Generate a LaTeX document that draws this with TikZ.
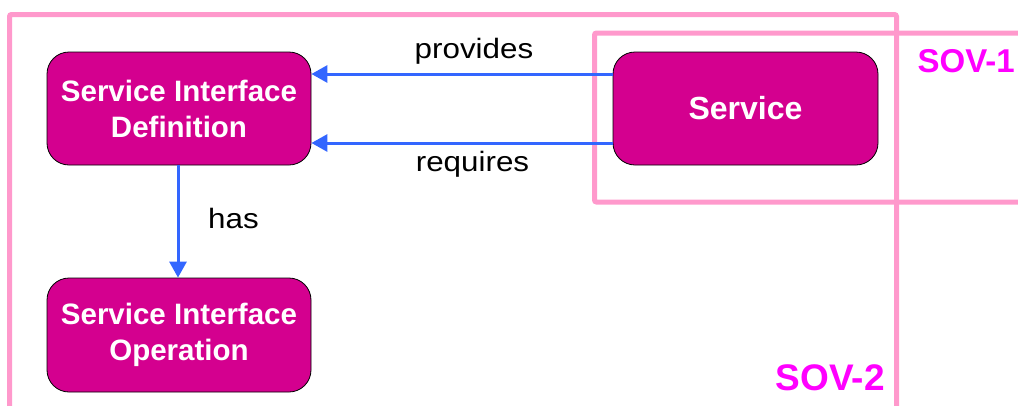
\documentclass[tikz,border=0pt]{standalone}
\usepackage{fontspec}
\setmainfont{Liberation Sans}
\newfontfamily\relfont[FakeStretch=1.12]{Liberation Sans}
\usetikzlibrary{arrows.meta}
\definecolor{boxfill}{RGB}{212,0,143}
\definecolor{frame}{RGB}{255,153,204}
\definecolor{arrowblue}{RGB}{51,102,255}
\definecolor{sovtext}{RGB}{255,0,255}
\tikzset{
  elem/.style={draw=black, line width=0.8pt, fill=boxfill, rounded corners=22pt,
    text=white, font=\bfseries\fontsize{29.5}{36}\selectfont, align=center,
    minimum width=264pt, minimum height=113pt, inner sep=0pt},
  framebox/.style={draw=frame, line width=5pt, rounded corners=2pt},
  rel/.style={draw=arrowblue, line width=3pt, -{Triangle[length=16pt,width=17pt]}},
  rellabel/.style={font=\relfont\fontsize{28}{32}\selectfont, text=black, anchor=base, inner sep=0pt},
  sovlabel/.style={font=\bfseries\fontsize{33}{38}\selectfont, text=sovtext, anchor=base east, inner sep=0pt}
}
\begin{document}
\begin{tikzpicture}[x=1pt,y=-1pt]
\useasboundingbox (0,0) rectangle (1018,405);
\begin{scope}
\clip (0,0) rectangle (1018,405);
\draw[framebox] (9.5,420) -- (9.5,14.5) -- (896.5,14.5) -- (896.5,420);
\draw[framebox] (1030,33) -- (594.5,33) -- (594.5,202) -- (1030,202);
\end{scope}
\node[elem] (sid) at (179,108.5) {Service Interface\\Definition};
\node[elem, font=\bfseries\fontsize{32}{38}\selectfont, minimum width=265pt] (svc) at (745.5,108.5) {Service};
\node[elem, minimum height=114pt] (sio) at (179,335) {Service Interface\\Operation};
\draw[rel] ([yshift=34.5pt]svc.west) -- ([yshift=34.5pt]sid.east);
\draw[rel] ([yshift=-34.5pt]svc.west) -- ([yshift=-34.5pt]sid.east);
\draw[rel] ([xshift=-1pt]sid.south) -- ([xshift=-1pt]sio.north);
\node[rellabel] (lprov) at (474,58) {provides};
\node[rellabel] (lreq) at (472.5,171) {requires};
\node[rellabel] (lhas) at (233.5,228) {has};
\node[sovlabel] (sov1) at (1015,72) {SOV-1};
\node[sovlabel, font=\bfseries\fontsize{37}{42}\selectfont] (sov2) at (885,390) {SOV-2};
\end{tikzpicture}
\end{document}
